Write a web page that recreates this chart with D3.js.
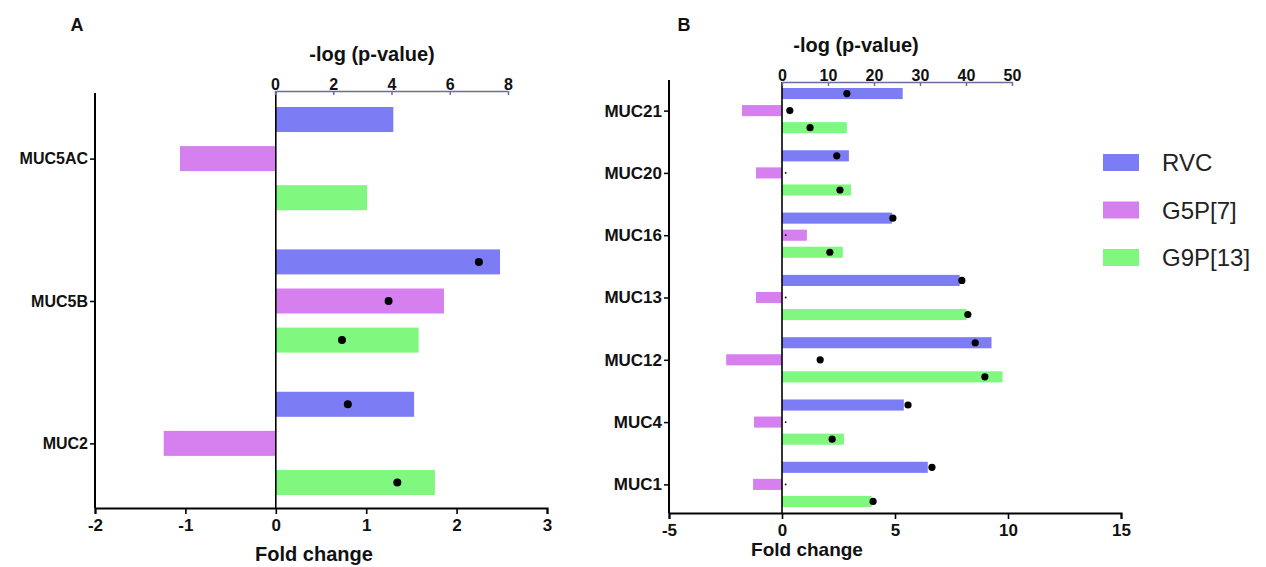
<!DOCTYPE html>
<html><head><meta charset="utf-8">
<script src="https://cdn.jsdelivr.net/npm/d3@7"></script>
<style>
html,body{margin:0;padding:0;background:#fff;}
svg{display:block;font-family:"Liberation Sans",Arial,sans-serif;}
</style></head>
<body><svg id="chart" width="1266" height="567"></svg>
<script>
// ---------- data ----------
const series = ["RVC", "G5P[7]", "G9P[13]"];
const seriesColors = ["#7c7cf5", "#d680f0", "#80f880"];

const catsA = ["MUC5AC", "MUC5B", "MUC2"];
const fcA_RVC = [1.30, 2.48, 1.53];
const fcA_G5P = [-1.06, 1.86, -1.24];
const fcA_G9P = [1.01, 1.58, 1.76];
const plA_RVC = [null, 7.0, 2.5];
const plA_G5P = [null, 3.9, null];
const plA_G9P = [null, 2.3, 4.2];
const ticksA_fc = [-2, -1, 0, 1, 2, 3];
const ticksA_p = [0, 2, 4, 6, 8];

const catsB = ["MUC21", "MUC20", "MUC16", "MUC13", "MUC12", "MUC4", "MUC1"];
const fcB_RVC = [5.34, 2.96, 4.86, 7.86, 9.27, 5.39, 6.45];
const fcB_G5P = [-1.77, -1.15, 1.10, -1.15, -2.47, -1.24, -1.28];
const fcB_G9P = [2.87, 3.05, 2.69, 8.17, 9.76, 2.74, 3.97];
const plB_RVC = [14.1, 11.9, 24.1, 39.1, 42.0, 27.4, 32.6];
const plB_G5P = [1.7, 0.8, 0.8, 0.8, 8.3, 0.8, 0.8];
const plB_G9P = [6.1, 12.6, 10.4, 40.4, 44.1, 10.9, 19.8];
const ticksB_fc = [-5, 0, 5, 10, 15];
const ticksB_p = [0, 10, 20, 30, 40, 50];

const svg = d3.select("#chart");
const FONT = "'Liberation Sans',Arial,sans-serif";
const fmt = d => String(d);

function panel(o) {
  const g = svg.append("g");
  const x = d3.scaleLinear().domain(o.fcDomain).range(o.xRange);
  const xp = d3.scaleLinear().domain(o.pDomain).range(o.pRange);
  const y = d3.scaleBand().domain(o.cats).range(o.barRange).paddingInner(o.groupPad).paddingOuter(0);
  const yi = d3.scaleBand().domain(series).range([0, y.bandwidth()]).paddingInner(o.barPad).paddingOuter(0);

  const rows = [];
  o.cats.forEach((c, i) => {
    series.forEach((s, j) => {
      rows.push({cat: c, s, j, fc: o.fc[j][i], p: o.pl[j][i]});
    });
  });

  g.selectAll("rect.bar").data(rows).join("rect")
    .attr("class", "bar")
    .attr("x", d => x(Math.min(0, d.fc)))
    .attr("width", d => Math.abs(x(d.fc) - x(0)))
    .attr("y", d => y(d.cat) + yi(d.s))
    .attr("height", yi.bandwidth())
    .attr("fill", d => seriesColors[d.j]);

  g.selectAll("circle.dot").data(rows.filter(d => d.p != null)).join("circle")
    .attr("class", "dot")
    .attr("cx", d => xp(d.p))
    .attr("cy", d => y(d.cat) + yi(d.s) + yi.bandwidth() / 2)
    .attr("r", d => d.p < 1 ? 0.9 : o.dotR)
    .attr("fill", "#000");

  g.append("line")
    .attr("x1", x(0)).attr("x2", x(0))
    .attr("y1", o.topAxisY).attr("y2", o.bottomY)
    .attr("stroke", "#000").attr("stroke-width", 1.6);

  const yAxisScale = d3.scalePoint().domain(o.cats)
    .range([y(o.cats[0]) + y.bandwidth() / 2, y(o.cats[o.cats.length - 1]) + y.bandwidth() / 2]);
  const la = g.append("g").attr("transform", `translate(${o.xRange[0]},0)`)
    .call(d3.axisLeft(yAxisScale).tickSizeOuter(0).tickSize(5).tickPadding(2));
  la.select(".domain").remove();
  la.append("line").attr("x1", 0).attr("x2", 0).attr("y1", o.leftTop).attr("y2", o.bottomY)
    .attr("stroke", "#000").attr("stroke-width", 2);
  la.selectAll(".tick line").attr("stroke", "#000").attr("stroke-width", 1.5);
  la.selectAll(".tick text").attr("font-family", FONT).attr("font-weight", "bold")
    .attr("font-size", o.catFont).attr("fill", "#111");

  const ba = g.append("g").attr("transform", `translate(0,${o.bottomY})`)
    .call(d3.axisBottom(x).tickValues(o.fcTicks).tickFormat(fmt).tickSizeOuter(0).tickSize(6).tickPadding(5));
  ba.select(".domain").attr("stroke", "#000").attr("stroke-width", 2);
  ba.selectAll(".tick line").attr("stroke", "#000").attr("stroke-width", 1.6);
  ba.selectAll(".tick text").attr("font-family", FONT).attr("font-weight", "bold")
    .attr("font-size", 17).attr("fill", "#111");

  const ta = g.append("g").attr("transform", `translate(0,${o.topAxisY})`)
    .call(d3.axisTop(xp).tickValues(o.pTicks).tickFormat(fmt).tickSizeOuter(0).tickSizeInner(-4).tickPadding(1));
  ta.select(".domain").attr("stroke", "#6c6c9c").attr("stroke-width", 1.6);
  ta.selectAll(".tick line").attr("stroke", "#6c6c9c").attr("stroke-width", 1.5);
  ta.selectAll(".tick text").attr("font-family", FONT).attr("font-weight", "bold")
    .attr("font-size", 16).attr("fill", "#111");

  g.append("text").attr("x", o.pTitleX).attr("y", o.pTitleY).attr("text-anchor", "middle")
    .attr("font-family", FONT).attr("font-weight", "bold").attr("font-size", 20).attr("fill", "#111")
    .text("-log (p-value)");
  g.append("text").attr("x", o.fcTitleX).attr("y", o.fcTitleY).attr("text-anchor", "middle")
    .attr("font-family", FONT).attr("font-weight", "bold").attr("font-size", o.fcTitleFont).attr("fill", "#111")
    .text("Fold change");
  g.append("text").attr("x", o.letterX).attr("y", o.letterY).attr("text-anchor", "middle")
    .attr("font-family", FONT).attr("font-weight", "bold").attr("font-size", 18).attr("fill", "#111")
    .text(o.letter);
}

panel({
  cats: catsA, fc: [fcA_RVC, fcA_G5P, fcA_G9P], pl: [plA_RVC, plA_G5P, plA_G9P],
  fcDomain: [-2, 3], xRange: [95, 547], pDomain: [0, 8], pRange: [275, 508],
  barRange: [107, 495], groupPad: 0.275, barPad: 0.36,
  fcTicks: ticksA_fc, pTicks: ticksA_p,
  topAxisY: 91, bottomY: 508, leftTop: 93, catFont: 16, dotR: 4,
  pTitleX: 372, pTitleY: 61, fcTitleX: 314, fcTitleY: 561, fcTitleFont: 20,
  letter: "A", letterX: 77, letterY: 31
});

panel({
  cats: catsB, fc: [fcB_RVC, fcB_G5P, fcB_G9P], pl: [plB_RVC, plB_G5P, plB_G9P],
  fcDomain: [-5, 15], xRange: [669, 1121], pDomain: [0, 50], pRange: [782, 1012],
  barRange: [88, 507], groupPad: 0.274, barPad: 0.35,
  fcTicks: ticksB_fc, pTicks: ticksB_p,
  topAxisY: 82, bottomY: 513, leftTop: 80, catFont: 17, dotR: 3.6,
  pTitleX: 856, pTitleY: 52, fcTitleX: 807, fcTitleY: 556, fcTitleFont: 19,
  letter: "B", letterX: 684, letterY: 31
});

const lg = svg.append("g");
const ly = d3.scalePoint().domain(series).range([162.5, 257.5]);
lg.selectAll("rect").data(series).join("rect")
  .attr("x", 1103).attr("y", d => ly(d) - 8.5).attr("width", 36).attr("height", 17)
  .attr("fill", (d, i) => seriesColors[i]);
lg.selectAll("text").data(series).join("text")
  .attr("x", 1162).attr("y", d => ly(d)).attr("dy", "0.36em")
  .attr("font-family", FONT).attr("font-size", 24).attr("fill", "#222")
  .text(d => d);
</script></body></html>
